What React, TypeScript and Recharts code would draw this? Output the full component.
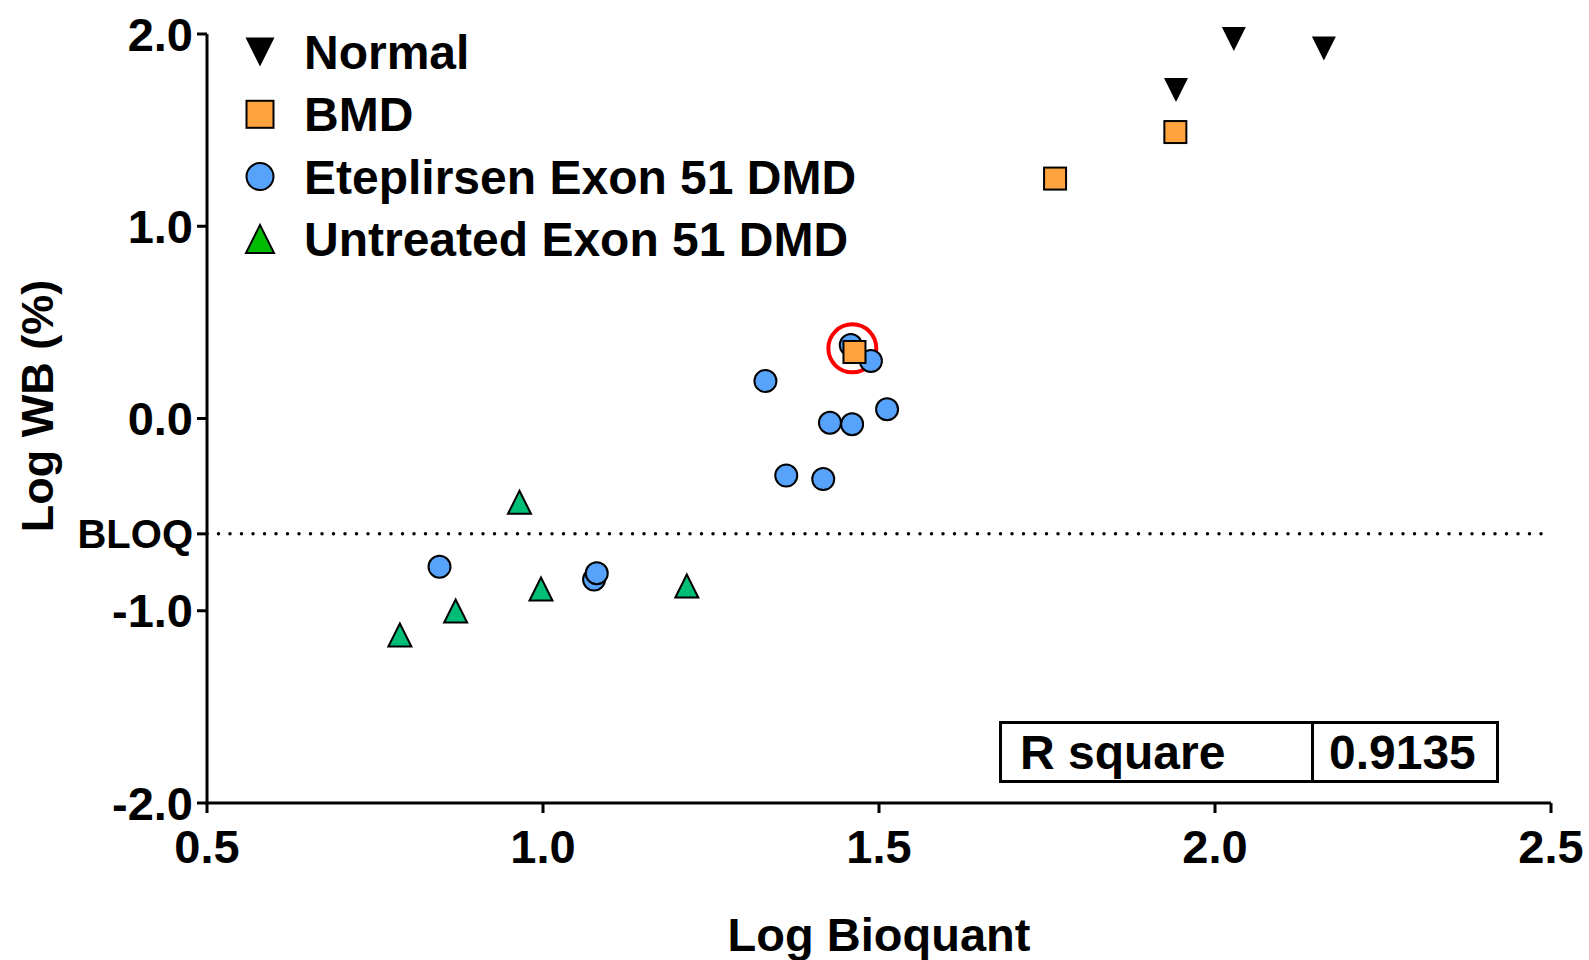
import React from 'react';
import { ScatterChart, Scatter, XAxis, YAxis, ReferenceLine, ReferenceDot, Legend } from 'recharts';

const FONT = '"Liberation Sans", Arial, Helvetica, sans-serif';

// Log Bioquant (x) against Log WB % (y), one pair of arrays per group
const normalX = [2.028, 2.162, 1.942];
const normalY = [1.974, 1.925, 1.709];

const bmdX = [1.941, 1.762, 1.4635];
const bmdY = [1.49, 1.248, 0.346];

const eteplirsenX = [1.458, 1.488, 1.331, 1.512, 1.427, 1.46, 1.362, 1.417, 0.846, 1.076, 1.08];
const eteplirsenY = [0.382, 0.299, 0.195, 0.048, -0.022, -0.03, -0.297, -0.315, -0.771, -0.837, -0.805];

const untreatedX = [0.965, 0.997, 0.87, 0.787, 1.214];
const untreatedY = [-0.436, -0.887, -1.001, -1.126, -0.871];

const seriesNames = ['Normal', 'BMD', 'Eteplirsen Exon 51 DMD', 'Untreated Exon 51 DMD'];

const BLOQ = -0.6;
const xTicks = [0.5, 1.0, 1.5, 2.0, 2.5];
const yTicks = [-2.0, -1.0, BLOQ, 0.0, 1.0, 2.0];

const rSquareLabel = 'R square';
const rSquare = 0.9135;

// sample circled in red
const highlighted = { x: 1.4603, y: 0.365 };

const toPoints = (xs: number[], ys: number[]) => xs.map((x, i) => ({ x, y: ys[i] }));

const COLORS = {
  normal: '#000000',
  bmd: '#FFA33F',
  eteplirsen: '#57A2FA',
  untreated: '#00BE76',
  untreatedLegend: '#00BB00',
};

type MarkerKind = 'down' | 'square' | 'circle' | 'up';

function markerPath(kind: MarkerKind, cx: number, cy: number, s: number) {
  const h = s / 2;
  if (kind === 'down') return `M${cx - h},${cy - h}L${cx + h},${cy - h}L${cx},${cy + h}Z`;
  if (kind === 'up') return `M${cx - h},${cy + h}L${cx + h},${cy + h}L${cx},${cy - h}Z`;
  return '';
}

function Marker({ kind, cx, cy, size, fill }: { kind: MarkerKind; cx: number; cy: number; size: number; fill: string }) {
  if (kind === 'square') {
    const s = size - 2;
    return <rect x={cx - s / 2} y={cy - s / 2} width={s} height={s} fill={fill} stroke="#000" strokeWidth={2} />;
  }
  if (kind === 'circle') {
    return <circle cx={cx} cy={cy} r={(size - 2) / 2} fill={fill} stroke="#000" strokeWidth={2} />;
  }
  if (kind === 'down') {
    return <path d={markerPath(kind, cx, cy, size)} fill={fill} />;
  }
  return <path d={markerPath(kind, cx, cy, size - 1)} fill={fill} stroke="#000" strokeWidth={2} strokeLinejoin="miter" />;
}

const shapeFor = (kind: MarkerKind, fill: string) => (props: any) =>
  <Marker kind={kind} cx={props.cx} cy={props.cy} size={24} fill={fill} />;

const legendRows: { kind: MarkerKind; fill: string }[] = [
  { kind: 'down', fill: COLORS.normal },
  { kind: 'square', fill: COLORS.bmd },
  { kind: 'circle', fill: COLORS.eteplirsen },
  { kind: 'up', fill: COLORS.untreatedLegend },
];

const renderLegend = () => (
  <svg width={900} height={280} style={{ display: 'block' }}>
    {legendRows.map((row, i) => {
      const cy = 52 + i * 62.3;
      return (
        <g key={seriesNames[i]}>
          <Marker kind={row.kind} cx={260} cy={cy} size={29} fill={row.fill} />
          <text x={304} y={cy + 17} fontFamily={FONT} fontWeight="bold" fontSize={48} fill="#000">
            {seriesNames[i]}
          </text>
        </g>
      );
    })}
  </svg>
);

const YTick = ({ x, y, payload }: any) => {
  const isBloq = payload.value === BLOQ;
  return (
    <text x={x} y={y} dy="0.355em" textAnchor="end" fontFamily={FONT} fontWeight="bold"
      fontSize={isBloq ? 40 : 47} fill="#000">
      {isBloq ? 'BLOQ' : Number(payload.value).toFixed(1)}
    </text>
  );
};

const XTick = ({ x, y, payload }: any) => (
  <text x={x} y={y} dy="0.71em" textAnchor="middle" fontFamily={FONT} fontWeight="bold" fontSize={47} fill="#000">
    {Number(payload.value).toFixed(1)}
  </text>
);

const xTitle = ({ viewBox }: any) => (
  <text x={viewBox.x + viewBox.width / 2} y={viewBox.y + 148} textAnchor="middle"
    fontFamily={FONT} fontWeight="bold" fontSize={47} fill="#000">
    Log Bioquant
  </text>
);

const yTitle = ({ viewBox }: any) => {
  const x = viewBox.x - 34;
  const y = viewBox.y + 372;
  return (
    <text x={x} y={y} transform={`rotate(-90, ${x}, ${y})`} textAnchor="middle"
      fontFamily={FONT} fontWeight="bold" fontSize={45} fill="#000">
      Log WB (%)
    </text>
  );
};

const axisStroke = { stroke: '#000', strokeWidth: 3 };

export default function App() {
  return (
    <div style={{ position: 'relative', width: 1589, height: 960, background: '#fff' }}>
      <style>{'body { margin: 0; }'}</style>
      <ScatterChart width={1589} height={960} margin={{ top: 34, right: 38, bottom: 57, left: 87 }}>
        <XAxis
          type="number"
          dataKey="x"
          domain={[0.5, 2.5]}
          ticks={xTicks}
          height={100}
          axisLine={axisStroke}
          tickLine={axisStroke}
          tickSize={10}
          tickMargin={17}
          tick={<XTick />}
          label={xTitle}
        />
        <YAxis
          type="number"
          dataKey="y"
          domain={[-2, 2]}
          ticks={yTicks}
          width={120}
          axisLine={axisStroke}
          tickLine={axisStroke}
          tickSize={10}
          tickMargin={4}
          tick={<YTick />}
          label={yTitle}
        />
        <ReferenceLine
          y={BLOQ}
          stroke="#000"
          strokeWidth={3.5}
          strokeDasharray="0 11.5"
          strokeDashoffset={-11.5}
          strokeLinecap="round"
        />
        <ReferenceDot x={highlighted.x} y={highlighted.y} r={24} fill="none" stroke="#FF0000" strokeWidth={4} />
        <Scatter name={seriesNames[3]} data={toPoints(untreatedX, untreatedY)}
          shape={shapeFor('up', COLORS.untreated)} isAnimationActive={false} />
        <Scatter name={seriesNames[2]} data={toPoints(eteplirsenX, eteplirsenY)}
          shape={shapeFor('circle', COLORS.eteplirsen)} isAnimationActive={false} />
        <Scatter name={seriesNames[0]} data={toPoints(normalX, normalY)}
          shape={shapeFor('down', COLORS.normal)} isAnimationActive={false} />
        <Scatter name={seriesNames[1]} data={toPoints(bmdX, bmdY)}
          shape={shapeFor('square', COLORS.bmd)} isAnimationActive={false} />
        <Legend
          layout="vertical"
          align="center"
          verticalAlign="middle"
          content={renderLegend}
          wrapperStyle={{ top: 0, left: 0, width: 900, height: 280 }}
        />
      </ScatterChart>

      {/* goodness-of-fit table */}
      <div
        style={{
          position: 'absolute',
          left: 999,
          top: 721,
          width: 500,
          height: 62,
          boxSizing: 'border-box',
          border: '3px solid #000',
          display: 'flex',
          fontFamily: FONT,
          fontWeight: 'bold',
          fontSize: 48,
          color: '#000',
        }}
      >
        <div style={{ width: 312, boxSizing: 'border-box', borderRight: '3px solid #000', display: 'flex', alignItems: 'center', paddingLeft: 18 }}>
          {rSquareLabel}
        </div>
        <div style={{ flex: 1, display: 'flex', alignItems: 'center', paddingLeft: 15 }}>
          {rSquare.toFixed(4)}
        </div>
      </div>
    </div>
  );
}
